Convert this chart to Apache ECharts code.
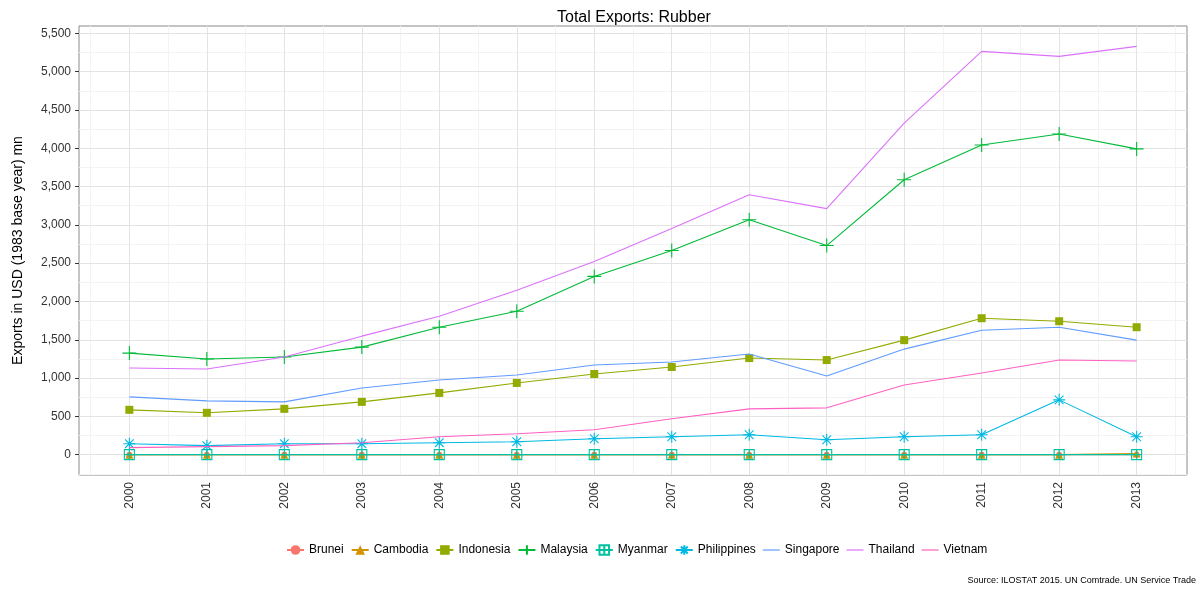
<!DOCTYPE html>
<html>
<head>
<meta charset="utf-8">
<script src="https://cdn.jsdelivr.net/npm/echarts@6/dist/echarts.min.js"></script>
<style>
html,body{margin:0;padding:0;background:#fff;}
#chart{width:1203px;height:590px;}
</style>
</head>
<body>
<div id="chart"></div>
<script>
// ---- data ----
const years = [2000,2001,2002,2003,2004,2005,2006,2007,2008,2009,2010,2011,2012,2013];
const countries = ['Brunei','Cambodia','Indonesia','Malaysia','Myanmar','Philippines','Singapore','Thailand','Vietnam'];
const brunei      = [0,0,0,0,0,0,0,0,0,0,0,0,0,0];
const cambodia    = [0,0,0,0,0,0,0,0,0,0,0,0,0,15];
const indonesia   = [585,546,598,689,806,936,1053,1144,1261,1235,1495,1781,1742,1664];
const malaysia    = [1326,1248,1274,1404,1664,1872,2327,2666,3068,2730,3589,4044,4187,3992];
const myanmar     = [0,0,0,0,0,0,0,0,0,0,0,0,0,0];
const philippines = [143,117,143,143,156,169,208,234,260,195,234,260,715,234];
const singapore   = [754,702,689,871,975,1040,1170,1209,1313,1027,1378,1625,1664,1495];
const thailand    = [1131,1118,1274,1547,1808,2146,2523,2952,3394,3212,4330,5266,5200,5331];
const vietnam     = [91,104,117,156,234,273,325,468,598,611,910,1066,1235,1222];
const yTicks = [0,500,1000,1500,2000,2500,3000,3500,4000,4500,5000,5500];
const yMinorTicks = [-250,250,750,1250,1750,2250,2750,3250,3750,4250,4750,5250];
const xMinorTicks = [1999.5,2000.5,2001.5,2002.5,2003.5,2004.5,2005.5,2006.5,2007.5,2008.5,2009.5,2010.5,2011.5,2012.5,2013.5];
const titleText = 'Total Exports: Rubber';
const yName = 'Exports in USD (1983 base year) mn';
const sourceText = 'Source: ILOSTAT 2015. UN Comtrade. UN Service Trade';

// ---- styles ----
const values = [brunei,cambodia,indonesia,malaysia,myanmar,philippines,singapore,thailand,vietnam];
const colors = ['#F8766D','#D39200','#93AA00','#00BA38','#00C19F','#00B9E3','#619CFF','#DB72FB','#FF61C3'];
const PLUS = 'path://M0,-1L0,1M-1,0L1,0';
const SQPLUS = 'path://M-1,-1L1,-1L1,1L-1,1ZM0,-1L0,1M-1,0L1,0';
const STAR = 'path://M0,-1L0,1M-1,0L1,0M-0.72,-0.72L0.72,0.72M-0.72,0.72L0.72,-0.72';
const LINEICON = 'path://M0,0L17,0L17,1.2L0,1.2Z';
const symbols = [
  {symbol:'circle', size:6, fill:true},
  {symbol:'triangle', size:8, fill:true},
  {symbol:'rect', size:8, fill:true},
  {symbol:PLUS, size:14, fill:false},
  {symbol:SQPLUS, size:10, fill:false},
  {symbol:STAR, size:12, fill:false},
  {symbol:'none', size:0, fill:true},
  {symbol:'none', size:0, fill:true},
  {symbol:'none', size:0, fill:true}
];

const series = countries.map((name,i) => {
  const s = symbols[i];
  return {
    name: name,
    type: 'line',
    xAxisIndex: 0, yAxisIndex: 0,
    data: years.map((y,j) => [y, values[i][j]]),
    symbol: s.symbol,
    symbolSize: s.size,
    showSymbol: s.symbol !== 'none',
    color: colors[i],
    lineStyle: {color: colors[i], width: 1.1},
    itemStyle: s.fill ? {color: colors[i], borderWidth: 0}
                      : {color: 'rgba(0,0,0,0)', borderColor: colors[i], borderWidth: 1.1},
    emphasis: {disabled: true},
    animation: false,
    z: 2 + i
  };
});

const legendData = countries.map((name,i) =>
  symbols[i].symbol === 'none' ? {name: name, icon: LINEICON} : {name: name});

const axisTextColor = '#333';
const font = 'Liberation Sans, Arial, sans-serif';

const chart = echarts.init(document.getElementById('chart'), null, {renderer:'canvas'});
chart.setOption({
  animation: false,
  backgroundColor: '#fff',
  title: {
    text: titleText, left: 552, top: 5,
    textStyle: {fontFamily: font, fontSize: 16, fontWeight: 'normal', color: '#000'}
  },
  legend: {
    bottom: 29, left: 281,
    itemWidth: 17, itemHeight: 12, itemGap: 7, symbolKeepAspect: true,
    textStyle: {fontFamily: font, fontSize: 12, color: '#000'},
    data: legendData
  },
  grid: {
    left: 79, right: 16, top: 26, bottom: 115,
    containLabel: false, outerBoundsMode: 'none',
    show: true, borderColor: '#8a8a8a', borderWidth: 1, backgroundColor: '#fff'
  },
  xAxis: [{
    type: 'value', min: 1999.35, max: 2013.65,
    axisLine: {show: false},
    axisTick: {show: true, customValues: years, length: 4, lineStyle: {color: '#333'}},
    axisLabel: {customValues: years, rotate: 90, margin: 7, color: axisTextColor, fontFamily: font, fontSize: 12,
      formatter: v => String(v)},
    splitLine: {show: true, lineStyle: {color: '#e3e3e3', width: 1}},
    z: 1
  },{
    type: 'value', min: 1999.35, max: 2013.65,
    axisLine: {show: false},
    axisTick: {show: false, customValues: xMinorTicks},
    axisLabel: {show: false, customValues: xMinorTicks},
    splitLine: {show: true, lineStyle: {color: '#f3f3f3', width: 1}},
    z: 0
  }],
  yAxis: [{
    type: 'value', min: -266, max: 5597,
    name: yName, nameLocation: 'middle', nameRotate: 90, nameGap: 54,
    nameTextStyle: {fontFamily: font, fontSize: 14, color: '#000'},
    axisLine: {show: false},
    axisTick: {show: true, customValues: yTicks, length: 4, lineStyle: {color: '#333'}},
    axisLabel: {customValues: yTicks, margin: 8, color: axisTextColor, fontFamily: font, fontSize: 12,
      formatter: v => v.toLocaleString('en-US')},
    splitLine: {show: true, lineStyle: {color: '#e3e3e3', width: 1}},
    z: 1
  },{
    type: 'value', min: -266, max: 5597,
    axisLine: {show: false},
    axisTick: {show: false, customValues: yMinorTicks},
    axisLabel: {show: false, customValues: yMinorTicks},
    splitLine: {show: true, lineStyle: {color: '#f3f3f3', width: 1}},
    z: 0
  }],
  graphic: [{
    type: 'text', right: 7, bottom: 5,
    style: {text: sourceText, font: '9px Liberation Sans, Arial, sans-serif', fill: '#000'}
  }],
  series: series
});
</script>
</body>
</html>
